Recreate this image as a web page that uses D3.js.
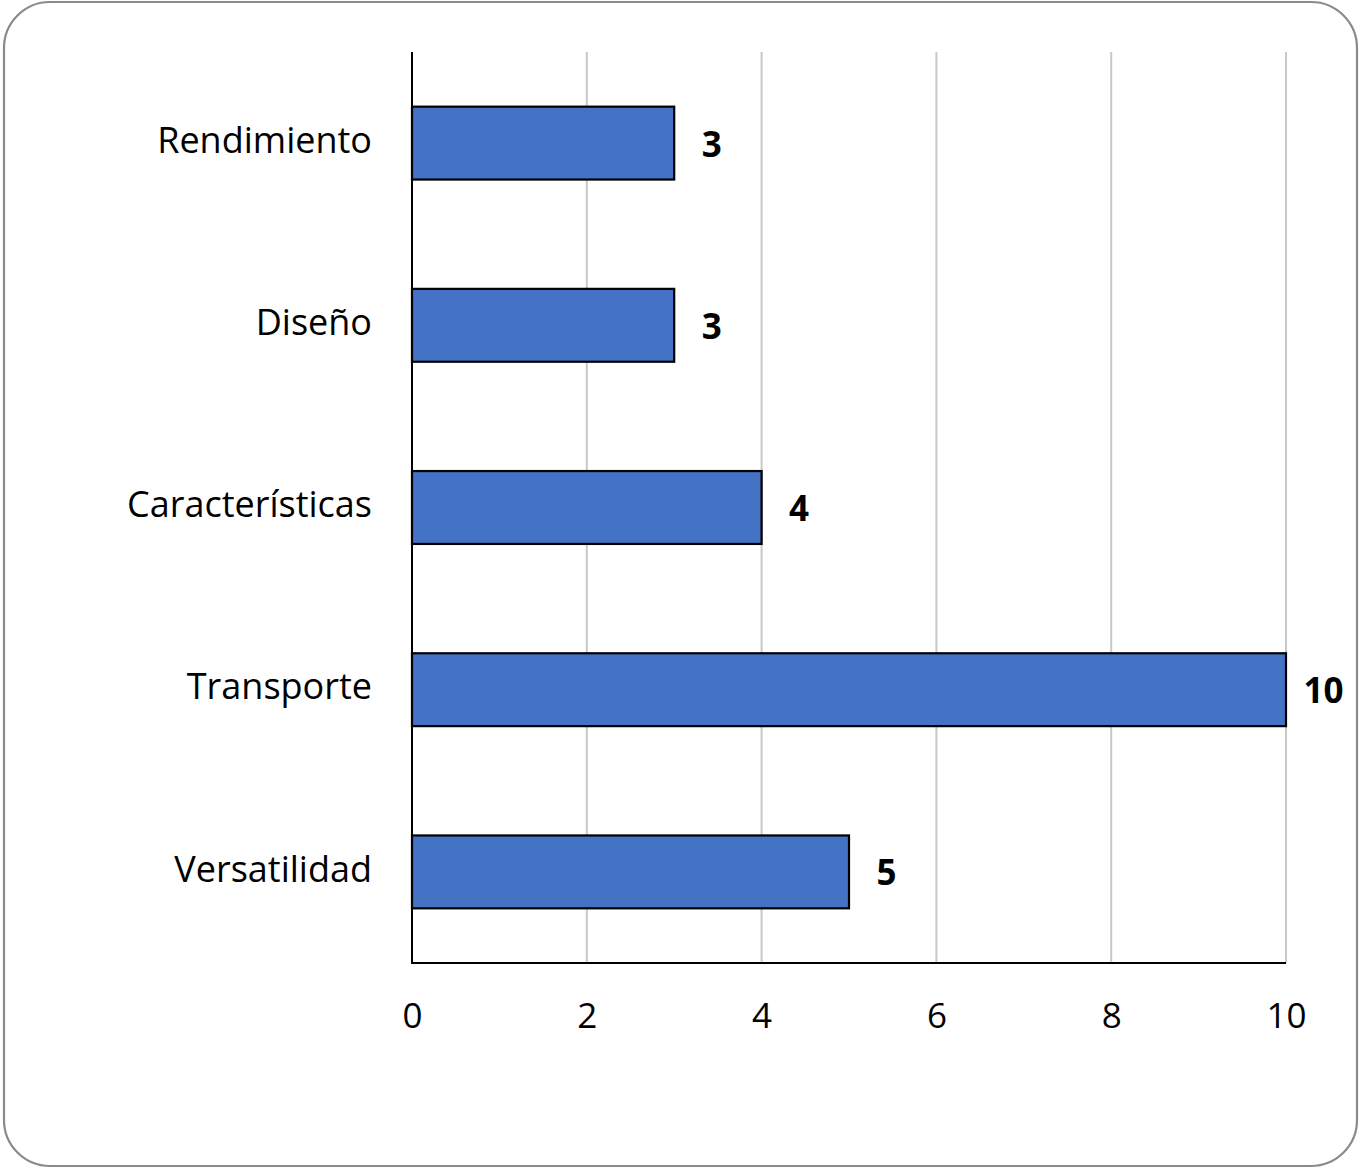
<!DOCTYPE html>
<html><head><meta charset="utf-8">
<script src="https://cdn.jsdelivr.net/npm/d3@7/dist/d3.min.js"></script>
<style>body{margin:0;background:#fff}</style>
</head><body>
<script>
const categories = ["Rendimiento","Diseño","Características","Transporte","Versatilidad"];
const values = [3,3,4,10,5];
const ticks = [0,2,4,6,8,10];

(function(){
const W=1365,H=1173;
const svg=d3.select("body").append("svg").attr("width",W).attr("height",H);
svg.append("rect").attr("x",4).attr("y",2).attr("width",1353).attr("height",1164)
  .attr("rx",46).attr("ry",46).attr("fill","#fff").attr("stroke","#8a8a8a").attr("stroke-width",2.2);

const pLeft=412,pRight=1286,pTop=52,pBottom=963;
const x=d3.scaleLinear().domain([0,10]).range([pLeft,pRight]);
const y=d3.scaleBand().domain(categories).range([pTop,pBottom]).paddingInner(0.6).paddingOuter(0.3);
const font="'Open Sans', Lato, sans-serif";

// gridlines
svg.append("g").selectAll("line").data(ticks.filter(t=>t>0)).join("line")
  .attr("x1",d=>x(d)).attr("x2",d=>x(d)).attr("y1",pTop).attr("y2",pBottom)
  .attr("stroke","#c8c8c8").attr("stroke-width",2);

// bars
svg.append("g").selectAll("rect").data(categories).join("rect")
  .attr("x",x(0)).attr("y",d=>y(d)).attr("width",(d,i)=>x(values[i])-x(0)).attr("height",y.bandwidth())
  .attr("fill","#4472C4").attr("stroke","#000").attr("stroke-width",2.2);

// axes lines
svg.append("line").attr("x1",pLeft).attr("x2",pLeft).attr("y1",pTop).attr("y2",pBottom).attr("stroke","#000").attr("stroke-width",2);
svg.append("line").attr("x1",pLeft-1).attr("x2",pRight).attr("y1",pBottom).attr("y2",pBottom).attr("stroke","#000").attr("stroke-width",2);

// x tick labels
const xa=d3.axisBottom(x).tickValues(ticks).tickSize(0).tickPadding(0).tickFormat(d3.format("d"));
const gx=svg.append("g").attr("transform",`translate(0,${pBottom})`).call(xa);
gx.select(".domain").remove();
gx.selectAll("text").attr("dy",null).attr("y",65).attr("font-family",font).attr("font-size",35).attr("fill","#000");

// y labels
const ya=d3.axisLeft(y).tickSize(0).tickPadding(0);
const gy=svg.append("g").attr("transform",`translate(${pLeft},0)`).call(ya);
gy.select(".domain").remove();
gy.selectAll("text").attr("x",-40).attr("dy","0.27em").attr("font-family",font).attr("font-size",36).attr("fill","#000");

// value labels
svg.append("g").selectAll("text").data(categories).join("text")
  .attr("x",(d,i)=>x(values[i])+37.5).attr("y",d=>y(d)+y.bandwidth()/2+13.5)
  .attr("text-anchor","middle")
  .attr("font-family",font).attr("font-weight","bold").attr("font-size",35).attr("fill","#000")
  .text((d,i)=>values[i]);
})();
</script>
</body></html>
